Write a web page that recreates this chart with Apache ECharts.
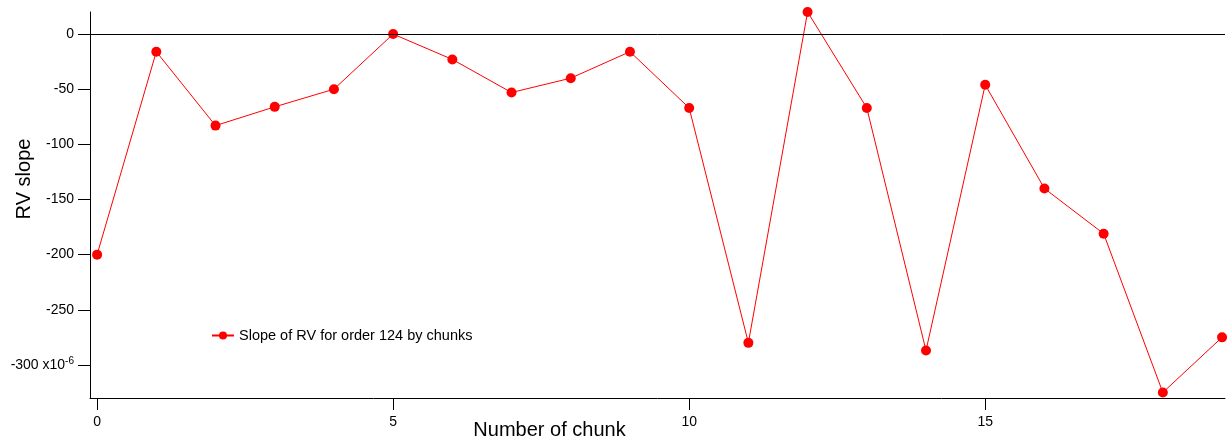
<!DOCTYPE html>
<html><head><meta charset="utf-8">
<script src="https://cdn.jsdelivr.net/npm/echarts@6/dist/echarts.min.js"></script>
<style>html,body{margin:0;padding:0;background:#fff}#c{width:1227px;height:443px}</style>
</head><body><div id="c"></div>
<script>
const chunks = [0,1,2,3,4,5,6,7,8,9,10,11,12,13,14,15,16,17,18,19];
const slopeValues = [-200,-16,-83,-66,-50,0,-23,-53,-40,-16,-67,-280,20,-67,-287,-46,-140,-181,-325,-275];
const xTicks = [0,5,10,15];
const yTicks = [0,-50,-100,-150,-200,-250,-300];
const seriesName = 'Slope of RV for order 124 by chunks';
const FONT = '"Liberation Sans", Arial, sans-serif';

const chart = echarts.init(document.getElementById('c'));
chart.setOption({
  animation: false,
  backgroundColor: '#fff',
  textStyle: {fontFamily: FONT},
  grid: {left: 90, top: 12, right: 2, bottom: 45, containLabel: false, outerBoundsMode: 'none'},
  legend: {
    left: 206, top: 323, itemWidth: 22, itemHeight: 10, itemGap: 4,
    textStyle: {fontFamily: FONT, fontSize: 14.5, color: '#000'},
    data: [{name: seriesName}]
  },
  xAxis: {
    type: 'value', min: -0.12, max: 19.05,
    name: 'Number of chunk', nameLocation: 'middle', nameGap: 22, nameMoveOverlap: false,
    nameTextStyle: {fontFamily: FONT, fontSize: 20, color: '#000', padding: [0, 216, 0, 0]},
    axisLine: {show: true, onZero: false, lineStyle: {color: '#000', width: 1}},
    axisTick: {show: true, inside: false, length: 12, customValues: xTicks, lineStyle: {color: '#000', width: 1}},
    axisLabel: {customValues: xTicks, fontFamily: FONT, fontSize: 14, color: '#000', margin: 17},
    splitLine: {show: false}
  },
  yAxis: {
    type: 'value', min: -330, max: 20,
    name: 'RV slope', nameLocation: 'middle', nameGap: 56, nameRotate: 90, nameMoveOverlap: false,
    nameTextStyle: {fontFamily: FONT, fontSize: 20, color: '#000', padding: [0, 0, 0, 52]},
    axisLine: {show: true, onZero: false, lineStyle: {color: '#000', width: 1}},
    axisTick: {show: true, inside: false, length: 12, customValues: yTicks, lineStyle: {color: '#000', width: 1}},
    axisLabel: {
      customValues: yTicks, fontFamily: FONT, fontSize: 14, color: '#000', margin: 16,
      formatter: v => v === -300 ? '{a|-300 x10}{s|-6}' : String(v),
      rich: {a: {fontFamily: FONT, fontSize: 14, color: '#000'}, s: {fontFamily: FONT, fontSize: 10, color: '#000', verticalAlign: 'top', padding: [0,0,8,0]}}
    },
    splitLine: {show: false}
  },
  series: [{
    name: seriesName, type: 'line',
    data: chunks.map((c, i) => [c, slopeValues[i]]),
    symbol: 'circle', symbolSize: 10, showSymbol: true,
    itemStyle: {color: '#ff0000'},
    lineStyle: {color: '#ff0000', width: 1},
    clip: false,
    markLine: {
      silent: true, symbol: 'none', label: {show: false},
      lineStyle: {color: '#000', width: 1, type: 'solid'},
      data: [{yAxis: 0}]
    },
    z: 3
  }]
});
</script></body></html>
